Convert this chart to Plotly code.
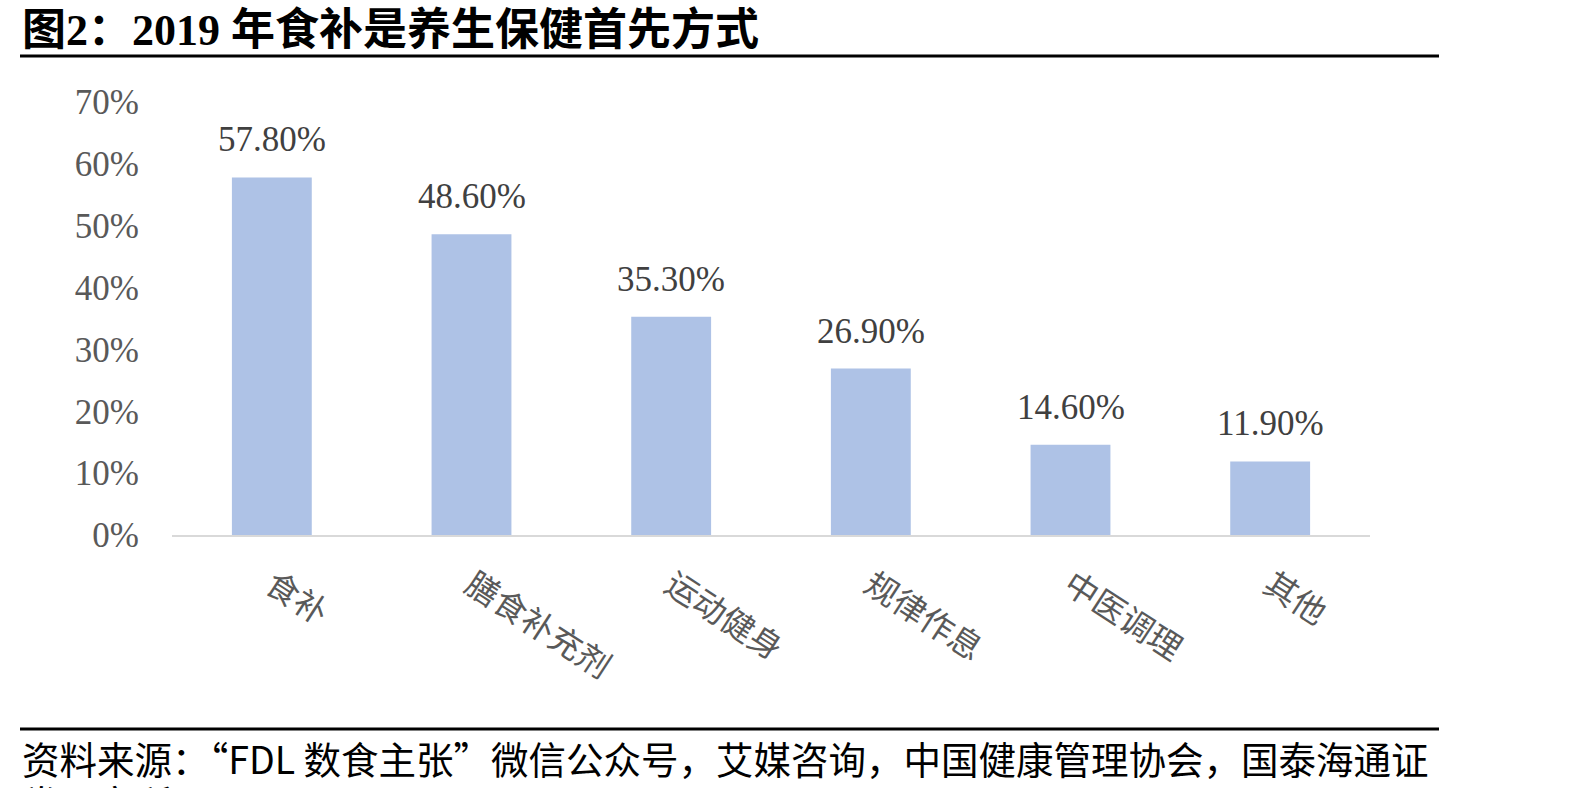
import plotly.graph_objects as go

categories = ["食补", "膳食补充剂", "运动健身", "规律作息", "中医调理", "其他"]
values = [0.578, 0.486, 0.353, 0.269, 0.146, 0.119]
value_labels = ["57.80%", "48.60%", "35.30%", "26.90%", "14.60%", "11.90%"]
y_tick_vals = [0, 0.1, 0.2, 0.3, 0.4, 0.5, 0.6, 0.7]
y_tick_text = ["0%", "10%", "20%", "30%", "40%", "50%", "60%", "70%"]

title_text = "图2：2019 年食补是养生保健首先方式"
source_text = "资料来源：“FDL 数食主张”微信公众号，艾媒咨询，中国健康管理协会，国泰海通证"
source_text2 = "券研究所"

SERIF = "Liberation Serif, Times New Roman, Noto Sans CJK SC"
CJK = "Noto Sans CJK SC"

W, H = 1594, 788
L, R, T, B = 172, 224, 102, 253
pw, ph = W - L - R, H - T - B


def px(x):
    return (x - L) / pw


def py(y):
    return (H - B - y) / ph


fig = go.Figure()
fig.add_trace(go.Bar(
    x=categories, y=values,
    marker=dict(color="#aec2e6", line=dict(width=0)),
    hoverinfo="skip",
))

for c, v, t in zip(categories, values, value_labels):
    fig.add_annotation(
        x=c, y=v, xref="x", yref="y", text=t, showarrow=False,
        yanchor="bottom", yshift=16,
        font=dict(family=SERIF, size=35, color="#404040"),
    )

# Title
fig.add_annotation(
    x=px(20), y=py(31), xref="paper", yref="paper", text="<b>" + title_text + "</b>",
    showarrow=False, xanchor="left", yanchor="middle",
    font=dict(family=SERIF, size=44, color="#000000"),
)
# Source
fig.add_annotation(
    x=px(20), y=py(757), xref="paper", yref="paper", text=source_text,
    showarrow=False, xanchor="left", yanchor="middle",
    font=dict(family=CJK, size=37.5, color="#000000"),
)
fig.add_annotation(
    x=px(20), y=py(801), xref="paper", yref="paper", text=source_text2,
    showarrow=False, xanchor="left", yanchor="middle",
    font=dict(family=CJK, size=37.5, color="#000000"),
)

fig.add_shape(type="line", xref="paper", yref="paper",
              x0=px(20), x1=px(1439), y0=py(56), y1=py(56),
              line=dict(color="#000000", width=3))
fig.add_shape(type="line", xref="paper", yref="paper",
              x0=px(20), x1=px(1439), y0=py(729), y1=py(729),
              line=dict(color="#000000", width=3))

fig.update_layout(
    width=W, height=H,
    margin=dict(l=L, r=R, t=T, b=B),
    paper_bgcolor="white", plot_bgcolor="white",
    bargap=0.6, showlegend=False,
    xaxis=dict(
        tickangle=33, showgrid=False, zeroline=False,
        showline=True, linecolor="#d9d9d9", linewidth=2,
        ticks="outside", ticklen=16, tickcolor="rgba(0,0,0,0)",
        tickfont=dict(family=CJK, size=33, color="#595959"),
    ),
    yaxis=dict(
        range=[0, 0.7], tickvals=y_tick_vals, ticktext=y_tick_text,
        showgrid=False, zeroline=False, showline=False,
        ticks="", ticklabelstandoff=32,
        tickfont=dict(family=SERIF, size=35, color="#595959"),
    ),
)

fig.write_html("out.html")
